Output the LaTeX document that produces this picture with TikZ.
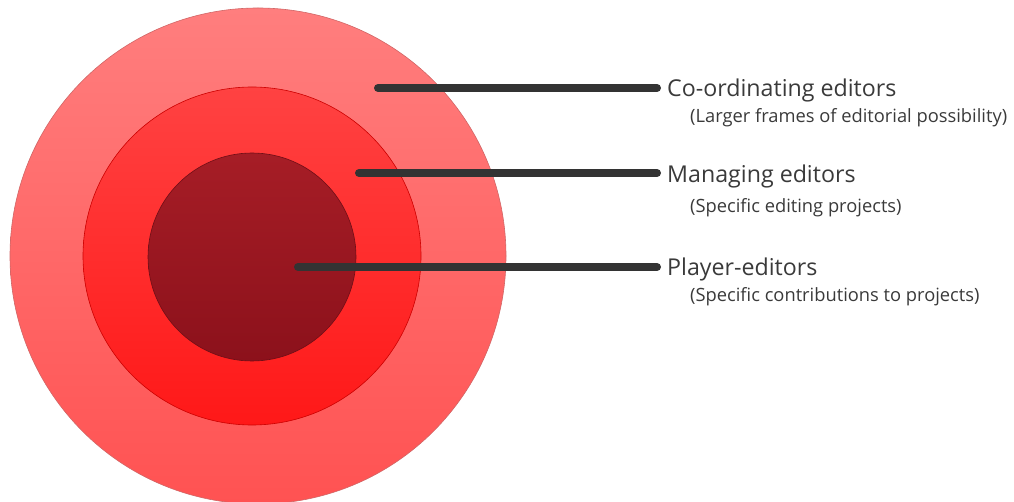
\documentclass[tikz,border=0pt]{standalone}
\usepackage{fontspec}
\setmainfont{Open Sans}
\begin{document}
\begin{tikzpicture}[x=1pt,y=-1pt,
  ring/.style={circle,inner sep=0pt,line width=0.6pt},
  leader/.style={line width=8pt,line cap=round,draw=leadergray,shorten >=10pt},
  role/.style={anchor=base west,inner sep=0pt,text=labelgray,font=\fontsize{23.2}{27}\selectfont},
  scope/.style={anchor=base west,inner sep=0pt,text=labelgray,font=\fontsize{18.3}{22}\selectfont}]
\definecolor{leadergray}{HTML}{333333}
\definecolor{labelgray}{HTML}{3A3A3A}
\definecolor{outertop}{HTML}{FF7E7E}
\definecolor{outerbot}{HTML}{FF5252}
\definecolor{midtop}{HTML}{FF4242}
\definecolor{midbot}{HTML}{FF1818}
\definecolor{innertop}{HTML}{A61D26}
\definecolor{innerbot}{HTML}{8C111B}
\useasboundingbox (0,0) rectangle (1014,502);

% concentric editorial circles
\node[ring,minimum size=496pt,top color=outertop,bottom color=outerbot,draw=red!70!black!60] (outer) at (258,256) {};
\node[ring,minimum size=338pt,top color=midtop,bottom color=midbot,draw=red!80!black] (middle) at (252,256) {};
\node[ring,minimum size=208pt,top color=innertop,bottom color=innerbot,draw=innerbot!80!black] (inner) at (252,257) {};

% leader starting points
\coordinate (s1) at (378,88);
\coordinate (s2) at (359,173);
\coordinate (s3) at (298,267);

% labels
\node[role] (l1) at (667,97) {Co-ordinating editors};
\node[scope] (d1) at (690,123) {(Larger frames of editorial possibility)};
\node[role] (l2) at (667,183) {Managing editors};
\node[scope] (d2) at (690,213) {(Specific editing projects)};
\node[role] (l3) at (667,276) {Player-editors};
\node[scope] (d3) at (690,302) {(Specific contributions to projects)};

% leaders
\draw[leader] (s1) -- (s1 -| l1.west);
\draw[leader] (s2) -- (s2 -| l2.west);
\draw[leader] (s3) -- (s3 -| l3.west);
\end{tikzpicture}
\end{document}
